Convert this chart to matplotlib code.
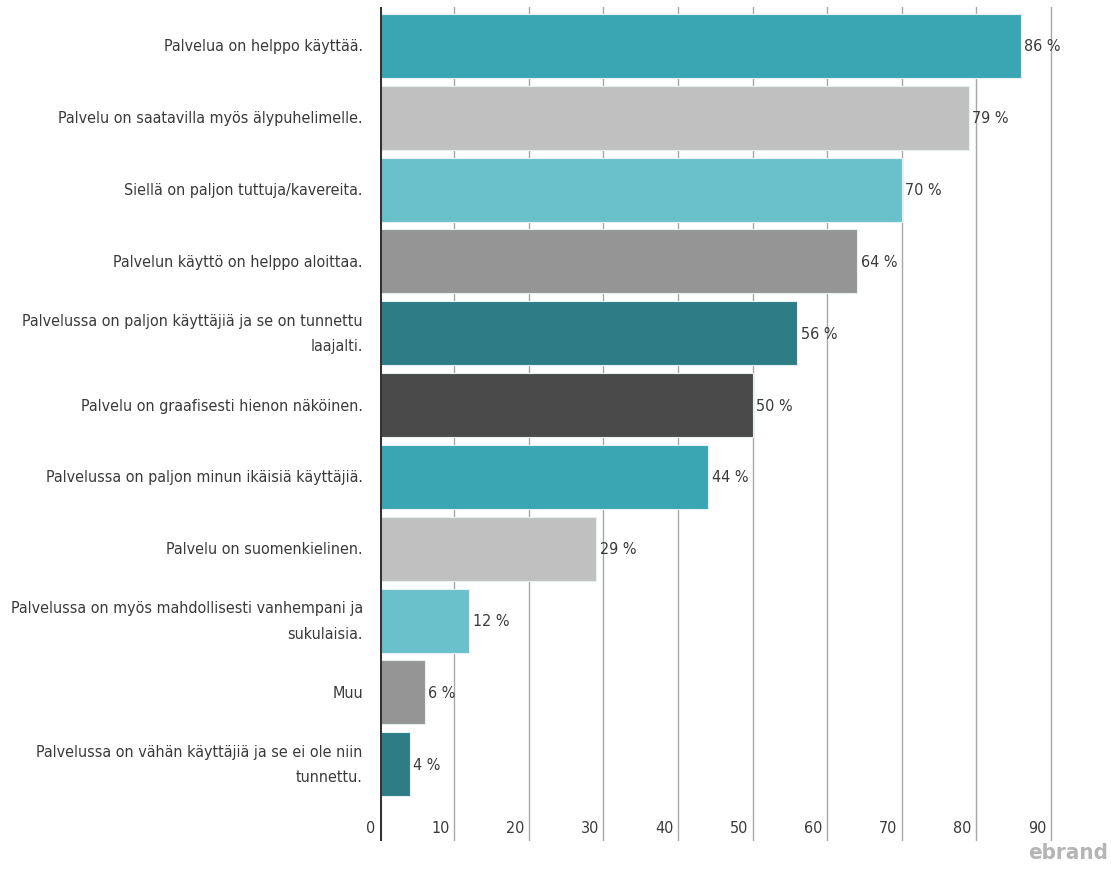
import matplotlib.pyplot as plt
from matplotlib import transforms
import numpy as np

# data
labels = [
    "Palvelua on helppo käyttää.",
    "Palvelu on saatavilla myös älypuhelimelle.",
    "Siellä on paljon tuttuja/kavereita.",
    "Palvelun käyttö on helppo aloittaa.",
    "Palvelussa on paljon käyttäjiä ja se on tunnettu\nlaajalti.",
    "Palvelu on graafisesti hienon näköinen.",
    "Palvelussa on paljon minun ikäisiä käyttäjiä.",
    "Palvelu on suomenkielinen.",
    "Palvelussa on myös mahdollisesti vanhempani ja\nsukulaisia.",
    "Muu",
    "Palvelussa on vähän käyttäjiä ja se ei ole niin\ntunnettu.",
]
values = [86, 79, 70, 64, 56, 50, 44, 29, 12, 6, 4]
ticks = [0, 10, 20, 30, 40, 50, 60, 70, 80, 90]

palette = ["#3aa6b3", "#c0c0c0", "#6bc1cb", "#959595", "#2d7c86", "#4a4a4a"]
colors = [palette[i % len(palette)] for i in range(len(values))]

plt.rcParams['font.family'] = ['DejaVu Sans']
plt.rcParams['font.stretch'] = 'condensed'
txt_col = "#3a3a3a"
fs = 11.5

fig = plt.figure(figsize=(11.11, 8.70), dpi=100)
ax = fig.add_axes([0.342, 0.032, 0.617, 0.959])

y = np.arange(len(values))
ax.barh(y, values, height=0.89, color=colors, edgecolor="#e4f0f2", linewidth=0.8, zorder=3)

ax.set_xlim(0, 92)
ax.set_ylim(11.07, -0.543)

# grid lines
for t in ticks[1:]:
    ax.axvline(t, color="#a8a8a8", lw=1, zorder=1)
ax.axvline(0, color="#333333", lw=2.2, zorder=4)

for s in ax.spines.values():
    s.set_visible(False)
ax.set_xticks([])
ax.set_yticks([])

# category labels
for yi, lab in zip(y, labels):
    ax.text(-2.3, yi, lab, ha="right", va="center", fontsize=fs, color=txt_col,
            multialignment="right", linespacing=1.85)

# value labels
for yi, v in zip(y, values):
    ax.text(v + 0.5, yi, f"{v} %", ha="left", va="center", fontsize=fs, color=txt_col, zorder=5)

# axis tick labels sitting inside the plot bottom
trans = transforms.blended_transform_factory(ax.transData, ax.transAxes)
for t in ticks:
    ax.text(t - 0.6, 0.016, str(t), transform=trans, ha="right", va="center",
            fontsize=fs, color=txt_col)

fig.text(0.997, 0.008, "ebrand", ha="right", va="bottom", fontsize=16, color="#b5b5b5",
         fontweight="bold")

plt.savefig("out.png", dpi=100)
